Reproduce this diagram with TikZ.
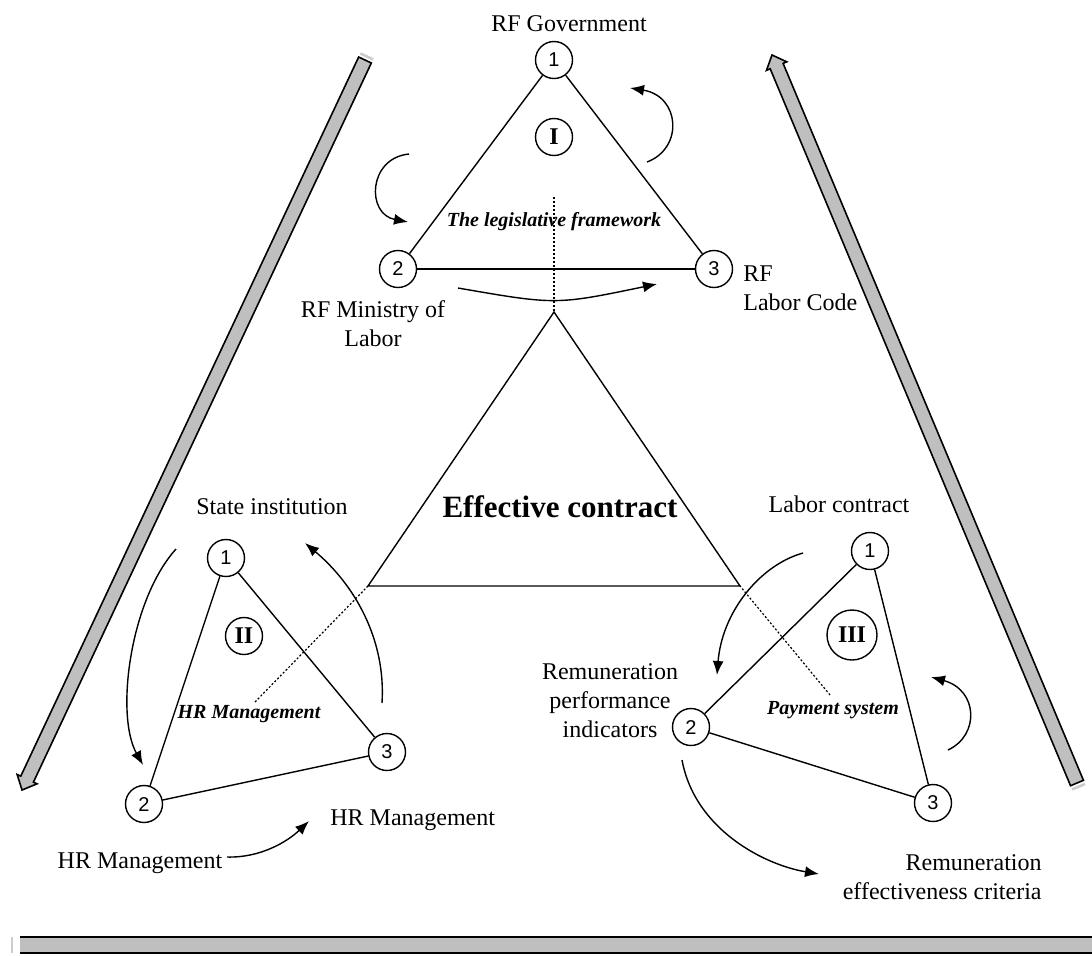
\documentclass[tikz,border=0pt]{standalone}
\usepackage{fontspec}
\setmainfont{Liberation Serif}
\setsansfont{Liberation Sans}
\usetikzlibrary{arrows.meta}
\usetikzlibrary{calc}

\begin{document}
\begin{tikzpicture}[x=0.5pt,y=-0.5pt,
	vert/.style={draw, circle, line width=0.7pt, minimum size=18.5pt, inner sep=0pt, font=\sffamily\fontsize{10}{12}\selectfont},
	roman/.style={draw, circle, line width=0.7pt, minimum size=18.5pt, inner sep=0pt, font=\bfseries\fontsize{12}{14}\selectfont},
	lbl/.style={font=\fontsize{12}{14.5}\selectfont, align=center, inner sep=0pt},
	ilbl/.style={font=\bfseries\itshape\fontsize{10}{12}\selectfont, inner sep=0pt},
	edge/.style={line width=0.7pt},
	flow/.style={line width=0.7pt, -{Latex[length=7pt,width=5.5pt]}},
	guide/.style={line width=0.6pt, dash pattern=on 1pt off 1pt},
	band/.style={draw=black, fill=black!25, line width=0.8pt, line join=miter},
	bandcap/.style={draw=black!20, line width=1.3pt}]

	\useasboundingbox (0,0) rectangle (1092,955);

	\def\bandW{3.5pt} %half width of the grey bands
	\def\headW{5.5pt} %half width of band arrow heads
	\def\headL{6pt} %length of band arrow heads

	%grey band on the left, pointing down
	\coordinate (lbS) at (365,60);
	\coordinate (lbE) at (22,790);
	\coordinate (lbH) at ($(lbE)!\headL!(lbS)$);
	\coordinate (lbC) at ($(lbS)!-2pt!(lbE)$);
	\filldraw[band] ($(lbS)!\bandW!90:(lbE)$) -- ($(lbH)!\bandW!90:(lbE)$) -- ($(lbH)!\headW!90:(lbE)$) -- (lbE)
		-- ($(lbH)!\headW!-90:(lbE)$) -- ($(lbH)!\bandW!-90:(lbE)$) -- ($(lbS)!\bandW!-90:(lbE)$) -- cycle;
	\draw[bandcap] ($(lbC)!\bandW!90:(lbE)$) -- ($(lbC)!\bandW!-90:(lbE)$);

	%grey band on the right, pointing up
	\coordinate (rbS) at (1077,783);
	\coordinate (rbE) at (772,55);
	\coordinate (rbH) at ($(rbE)!\headL!(rbS)$);
	\coordinate (rbC) at ($(rbS)!-2pt!(rbE)$);
	\filldraw[band] ($(rbS)!\bandW!90:(rbE)$) -- ($(rbH)!\bandW!90:(rbE)$) -- ($(rbH)!\headW!90:(rbE)$) -- (rbE)
		-- ($(rbH)!\headW!-90:(rbE)$) -- ($(rbH)!\bandW!-90:(rbE)$) -- ($(rbS)!\bandW!-90:(rbE)$) -- cycle;
	\draw[bandcap] ($(rbC)!\bandW!90:(rbE)$) -- ($(rbC)!\bandW!-90:(rbE)$);

	%grey bar at the bottom
	\fill[black!25] (20,937) rectangle (1092,953);
	\draw[line width=0.8pt] (20,937) -- (1092,937);
	\draw[line width=0.8pt] (20,953) -- (1092,953);
	\draw[bandcap] (12,937) -- (12,953);

	%central triangle
	\coordinate (ecTop) at (554,312);
	\coordinate (ecLeft) at (368,586);
	\coordinate (ecRight) at (740,586);
	\draw[edge] (ecTop) -- (ecLeft) -- (ecRight) -- cycle;
	\node[font=\bfseries\fontsize{15.5}{18}\selectfont, inner sep=0pt] (ecLbl) at (560,507) {Effective contract};

	%triangle I: the legislative framework
	\node[vert] (law1) at (554,60) {1};
	\node[vert] (law2) at (398,269) {2};
	\node[vert] (law3) at (714,269) {3};
	\draw[edge] (law1) -- (law2);
	\draw[edge] (law2) -- (law3);
	\draw[edge] (law3) -- (law1);
	\node[roman] (lawNum) at (554,137) {I};
	\node[ilbl] (lawLbl) at (554,222) {The legislative framework};
	\node[lbl] (govLbl) at (569,24) {RF Government};
	\node[lbl] (minLbl) at (373,324) {RF Ministry of\\Labor};
	\node[lbl, align=left, anchor=west] (codeLbl) at (743,288) {RF\\Labor Code};

	%triangle II: HR management
	\node[vert] (hr1) at (226,558) {1};
	\node[vert] (hr2) at (144,804) {2};
	\node[vert] (hr3) at (387,752) {3};
	\draw[edge] (hr1) -- (hr2);
	\draw[edge] (hr2) -- (hr3);
	\draw[edge] (hr3) -- (hr1);
	\node[roman] (hrNum) at (244,636) {II};
	\node[ilbl] (hrLbl) at (249,714) {HR Management};
	\node[lbl] (stateLbl) at (272,507) {State institution};
	\node[lbl] (hrLblA) at (140,863) {HR Management};
	\node[lbl, anchor=west] (hrLblB) at (330,820) {HR Management};

	%triangle III: payment system
	\node[vert] (pay1) at (870,551) {1};
	\node[vert] (pay2) at (691,727) {2};
	\node[vert] (pay3) at (933,803) {3};
	\draw[edge] (pay1) -- (pay2);
	\draw[edge] (pay2) -- (pay3);
	\draw[edge] (pay3) -- (pay1);
	\node[roman, minimum size=25pt] (payNum) at (852,635) {III};
	\node[ilbl] (payLbl) at (833,710) {Payment system};
	\node[lbl] (lcLbl) at (839,504) {Labor contract};
	\node[lbl] (rpiLbl) at (610,701) {Remuneration\\performance\\indicators};
	\node[lbl, align=right, anchor=east] (recLbl) at (1042,877) {Remuneration\\effectiveness criteria};

	%dotted links to the central triangle
	\coordinate (lawG) at (554,197);
	\coordinate (hrG) at (255,702);
	\coordinate (payG) at (830,695);
	\draw[guide] (lawG) -- (ecTop);
	\draw[guide] (hrG) -- (ecLeft);
	\draw[guide] (payG) -- (ecRight);

	%curved arrows
	\coordinate (a1s) at (409,154); \coordinate (a1e) at (408,222);
	\coordinate (a2s) at (647,162); \coordinate (a2e) at (630,88);
	\coordinate (a3s) at (458,288); \coordinate (a3e) at (657,284);
	\draw[flow] (a1s) .. controls (368,158) and (366,214) .. (a1e);
	\draw[flow] (a2s) .. controls (684,148) and (680,96) .. (a2e);
	\draw[flow] (a3s) .. controls (556,305) .. (a3e);

	\coordinate (b1s) at (176,549); \coordinate (b1e) at (143,765);
	\coordinate (b2s) at (382,703); \coordinate (b2e) at (305,543);
	\coordinate (b3s) at (227,857); \coordinate (b3e) at (309,821);
	\draw[flow] (b1s) .. controls (130,600) and (115,715) .. (b1e);
	\draw[flow] (b2s) .. controls (386,640) and (355,585) .. (b2e);
	\draw[flow] (b3s) .. controls (260,858) and (287,842) .. (b3e);

	\coordinate (c1s) at (803,553); \coordinate (c1e) at (717,675);
	\coordinate (c2s) at (948,750); \coordinate (c2e) at (931,677);
	\coordinate (c3s) at (682,760); \coordinate (c3e) at (819,874);
	\draw[flow] (c1s) .. controls (760,565) and (722,612) .. (c1e);
	\draw[flow] (c2s) .. controls (980,735) and (978,690) .. (c2e);
	\draw[flow] (c3s) .. controls (695,830) and (765,865) .. (c3e);

\end{tikzpicture}
\end{document}
